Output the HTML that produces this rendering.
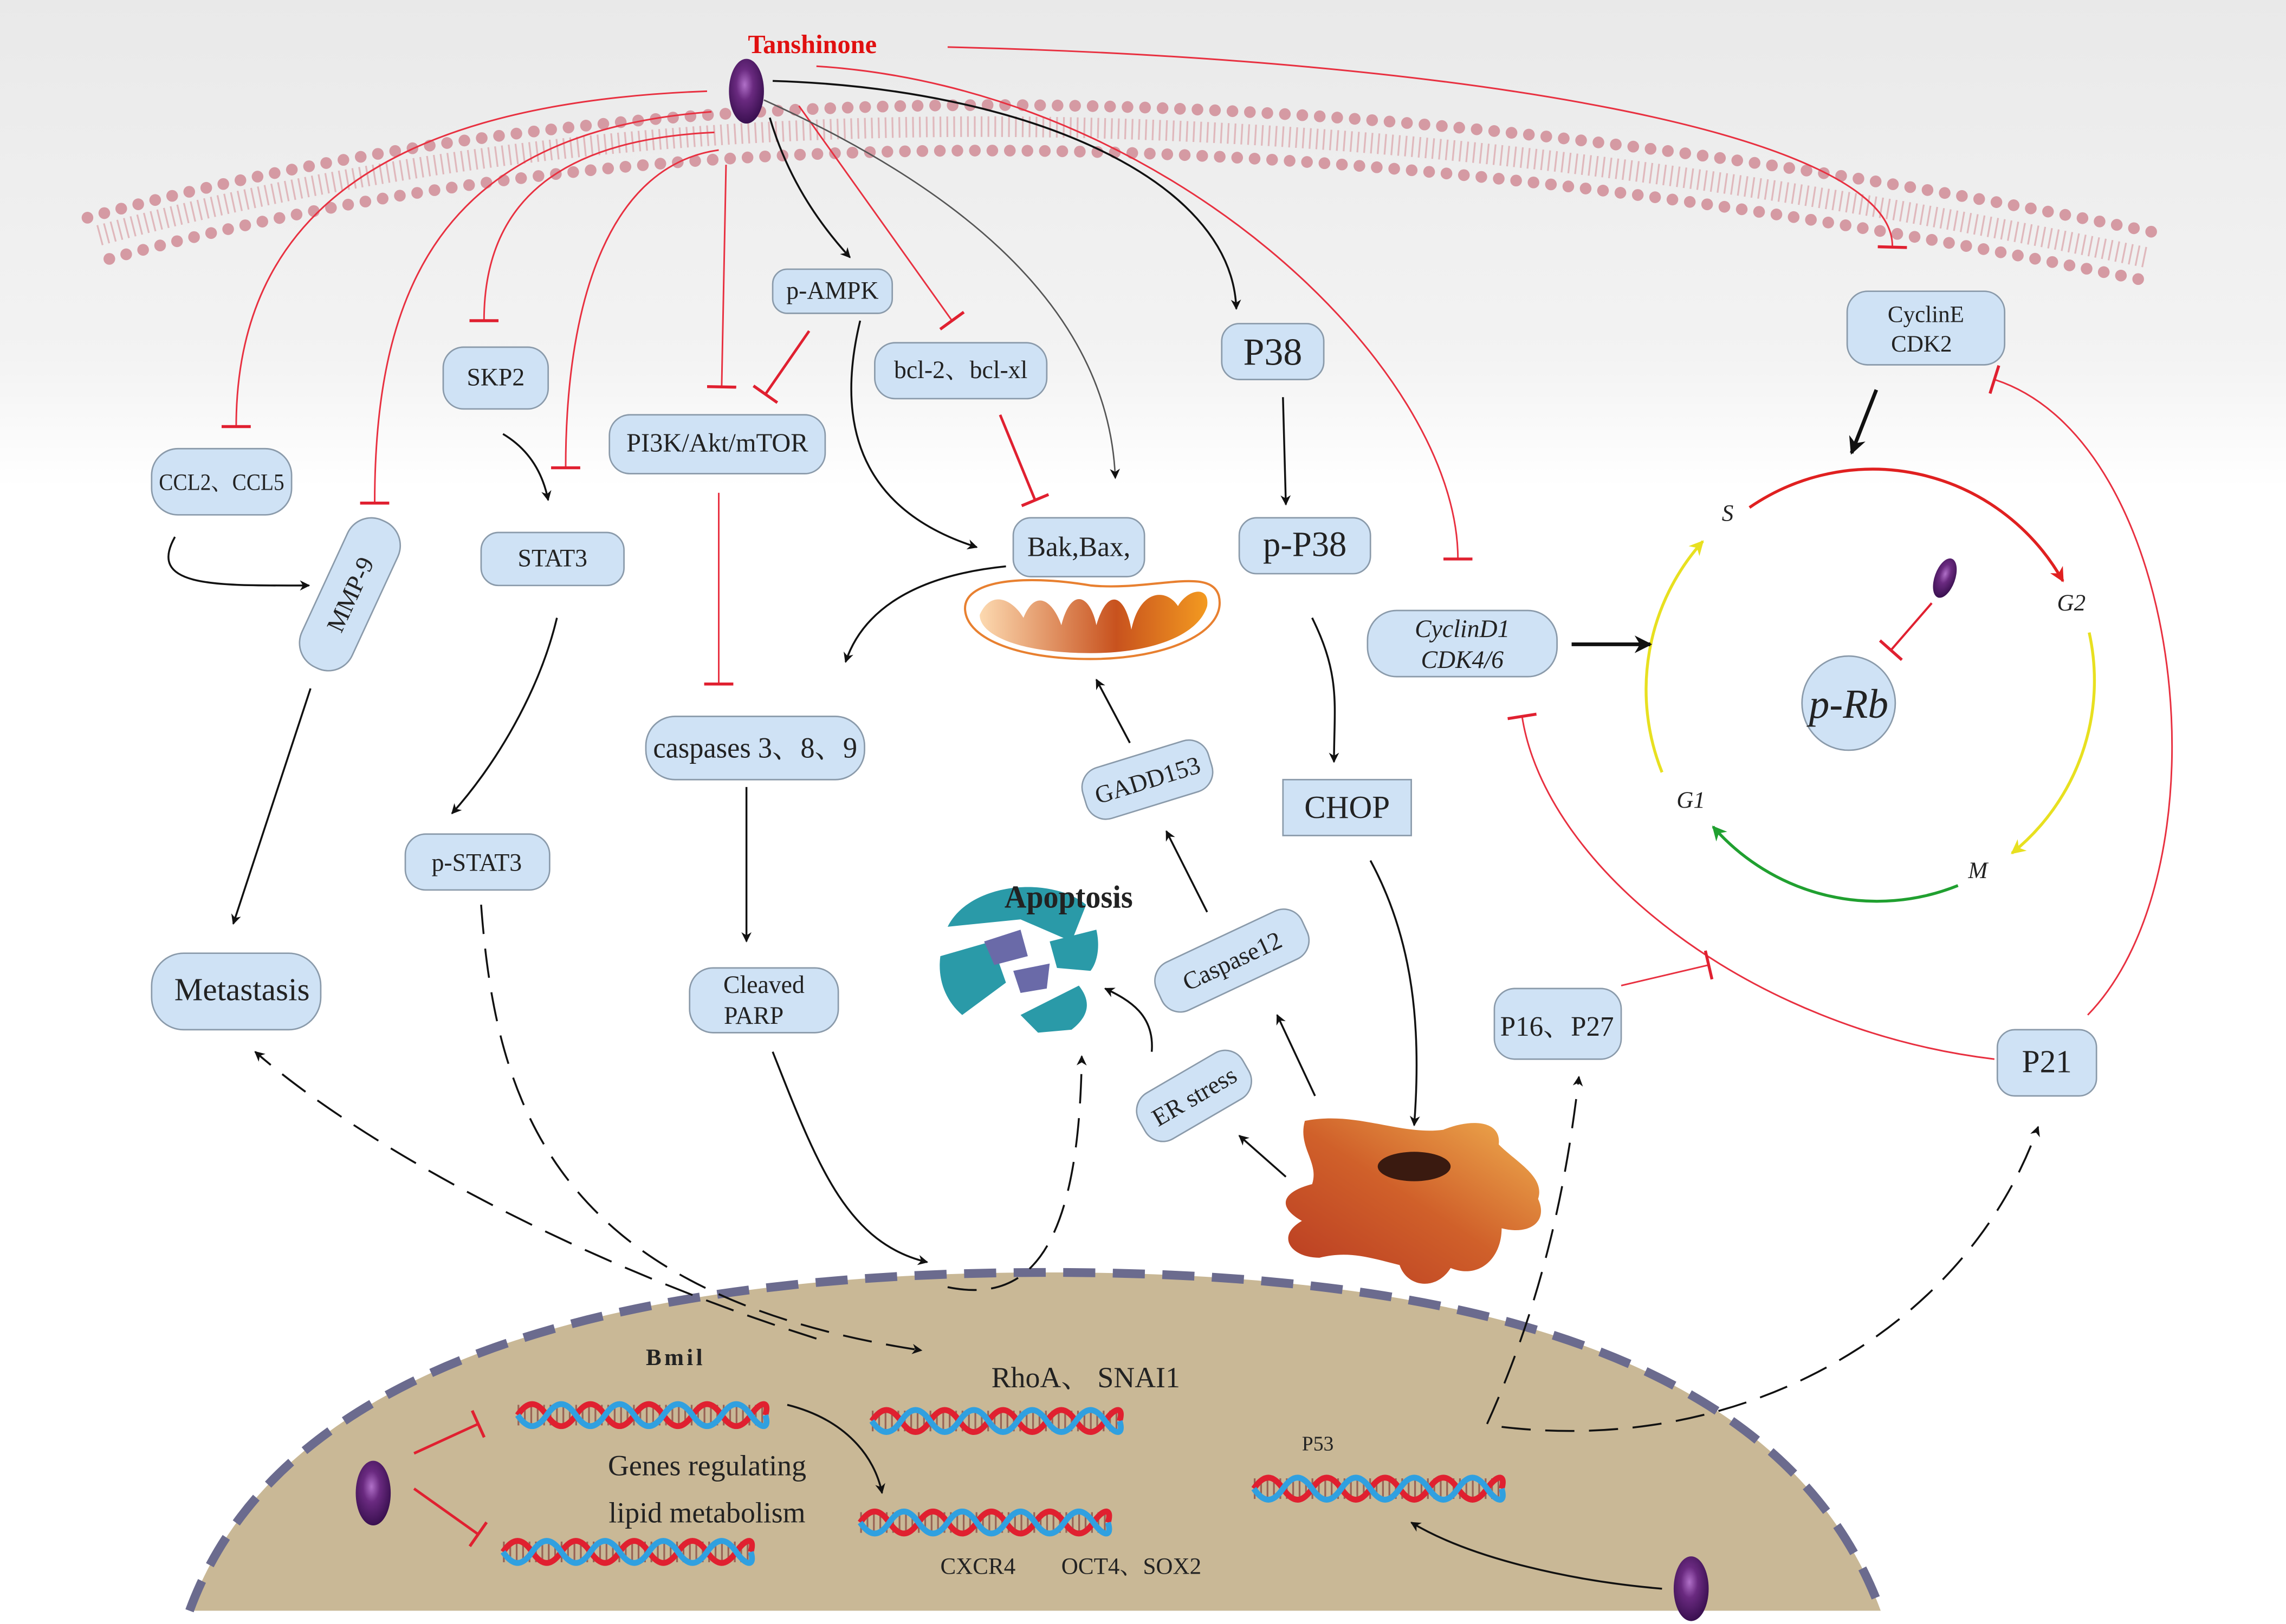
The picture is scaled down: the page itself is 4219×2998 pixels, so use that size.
<!DOCTYPE html>
<html><head><meta charset="utf-8"><style>
html,body{margin:0;padding:0;background:#fff}
svg{display:block}
text{font-family:"Liberation Serif","Noto Serif CJK SC",serif;fill:#222}
</style></head><body>
<svg width="4219" height="2998" viewBox="0 0 1568 1104" preserveAspectRatio="none" xmlns="http://www.w3.org/2000/svg">
<defs>
<linearGradient id="bg" x1="0" y1="0" x2="0" y2="1"><stop offset="0" stop-color="#e9e9e9"/><stop offset="0.22" stop-color="#f3f3f3"/><stop offset="0.3" stop-color="#fff"/></linearGradient>
<linearGradient id="mito" x1="0" x2="1"><stop offset="0" stop-color="#fcd9b0"/><stop offset="0.6" stop-color="#c8521e"/><stop offset="1" stop-color="#f39a20"/></linearGradient>
<linearGradient id="cellg" x1="0" x2="1" y1="1" y2="0"><stop offset="0" stop-color="#b83a22"/><stop offset="0.5" stop-color="#d0602a"/><stop offset="1" stop-color="#f0b050"/></linearGradient>
<radialGradient id="pur" cx="0.45" cy="0.4" r="0.6"><stop offset="0" stop-color="#b070c8"/><stop offset="0.4" stop-color="#6a2a80"/><stop offset="1" stop-color="#3a1050"/></radialGradient>
<marker id="ab" viewBox="0 0 10 10" refX="9" refY="5" markerWidth="7" markerHeight="7" orient="auto-start-reverse" markerUnits="userSpaceOnUse"><path d="M0,0 L10,5 L0,10 L3,5z" fill="#111"/></marker>
<marker id="ab2" viewBox="0 0 10 10" refX="9" refY="5" markerWidth="12" markerHeight="12" orient="auto" markerUnits="userSpaceOnUse"><path d="M0,0 L10,5 L0,10 L3,5z" fill="#111"/></marker>
<marker id="ar" viewBox="0 0 10 10" refX="9" refY="5" markerWidth="10" markerHeight="10" orient="auto" markerUnits="userSpaceOnUse"><path d="M0,0 L10,5 L0,10 L3,5z" fill="#e02020"/></marker>
<marker id="ay" viewBox="0 0 10 10" refX="9" refY="5" markerWidth="10" markerHeight="10" orient="auto" markerUnits="userSpaceOnUse"><path d="M0,0 L10,5 L0,10 L3,5z" fill="#e8e020"/></marker>
<marker id="ag" viewBox="0 0 10 10" refX="9" refY="5" markerWidth="10" markerHeight="10" orient="auto" markerUnits="userSpaceOnUse"><path d="M0,0 L10,5 L0,10 L3,5z" fill="#20a030"/></marker>
<marker id="bar" viewBox="0 0 10 10" refX="5" refY="5" markerWidth="20" markerHeight="20" orient="auto" markerUnits="userSpaceOnUse"><path d="M5,0 L5,10" stroke="#e02030" stroke-width="1"/></marker>
<g id="dna" fill="none">
<path d="M0,0 h170" stroke="#7a2a2a" stroke-width="14" stroke-dasharray="1.2 3.2" opacity="0.6"/>
<path d="M0,0 c7,-10 13,-10 20,0 s13,10 20,0 s13,-10 20,0 s13,10 20,0 s13,-10 20,0 s13,10 20,0 s13,-10 20,0 s13,10 20,0 s13,-10 10,0" stroke="#e02030" stroke-width="4"/>
<path d="M0,0 c7,10 13,10 20,0 s13,-10 20,0 s13,10 20,0 s13,-10 20,0 s13,10 20,0 s13,-10 20,0 s13,10 20,0 s13,-10 20,0 s13,10 10,0" stroke="#30a0e0" stroke-width="4"/>
</g>
</defs>
<rect width="1568" height="1104" fill="url(#bg)"/>

<!-- membrane -->
<path d="M68,160 Q640,5 1472,175" fill="none" stroke="#e0b8bc" stroke-width="14" stroke-dasharray="1.2 3.5"/>
<path d="M60,148 Q640,-10 1478,158" fill="none" stroke="#d59aa3" stroke-width="8" stroke-linecap="round" stroke-dasharray="0 12"/>
<path d="M75,176 Q640,22 1468,190" fill="none" stroke="#d59aa3" stroke-width="8" stroke-linecap="round" stroke-dasharray="0 12"/>

<!-- nucleus -->
<path d="M130,1095 C200,905 480,865 720,865 C960,865 1220,905 1290,1095 Z" fill="#c9b896"/>
<path d="M130,1095 C200,905 480,865 720,865 C960,865 1220,905 1290,1095" fill="none" stroke="#6b6b8e" stroke-width="6" stroke-dasharray="22 12"/>

<!-- cell cycle -->
<path d="M1200,345 A150,150 0 0 1 1415,395" fill="none" stroke="#e02020" stroke-width="2" marker-end="url(#ar)"/>
<path d="M1433,430 A150,150 0 0 1 1380,580" fill="none" stroke="#e8e020" stroke-width="2" marker-end="url(#ay)"/>
<path d="M1343,602 A150,150 0 0 1 1175,562" fill="none" stroke="#20a030" stroke-width="2" marker-end="url(#ag)"/>
<path d="M1140,525 A150,150 0 0 1 1168,368" fill="none" stroke="#e8e020" stroke-width="2" marker-end="url(#ay)"/>
<g font-style="italic" font-size="16"><text x="1181" y="354">S</text><text x="1411" y="415">G2</text><text x="1350" y="597">M</text><text x="1150" y="549">G1</text></g>
<circle cx="1268" cy="478" r="32" fill="#cfe2f5" stroke="#8a9aaa"/>
<text x="1268" y="488" font-size="28" font-style="italic" text-anchor="middle">p-Rb</text>
<ellipse cx="1334" cy="393" rx="7" ry="14" fill="url(#pur)" transform="rotate(20 1334 393)"/>
<path d="M1325,410 L1297,442" stroke="#e02030" stroke-width="1.5" marker-end="url(#bar)"/>

<!-- red inhibition lines -->
<g fill="none" stroke="#e83040" stroke-width="1.1" marker-end="url(#bar)">
<path d="M485,62 C260,70 162,150 162,290"/>
<path d="M488,76 C300,90 257,200 257,342"/>
<path d="M490,90 C380,95 332,140 332,218"/>
<path d="M493,102 C420,112 388,200 388,318"/>
<path d="M498,112 L495,263"/>
<path d="M548,72 L653,218"/>
<path d="M560,45 C800,60 1000,250 1000,380"/>
<path d="M650,32 C1000,40 1300,90 1298,168"/>
<path d="M493,335 L493,465"/>
<path d="M1432,690 C1530,590 1500,300 1368,258"/>
<path d="M1368,720 C1200,700 1060,590 1044,487"/>
<path d="M1112,670 L1172,656"/>
</g>
<g fill="none" stroke="#e02030" stroke-width="1.8" marker-end="url(#bar)">
<path d="M555,225 L525,268"/>
<path d="M686,282 L710,340"/>
<path d="M284,988 L328,968"/>
<path d="M284,1012 L328,1043"/>
</g>

<!-- black arrows -->
<g fill="none" stroke="#111" stroke-width="1.3" marker-end="url(#ab)">
<path d="M528,80 C540,120 560,150 583,175"/>
<path d="M524,68 C640,120 760,200 765,325" stroke="#555" stroke-width="1"/>
<path d="M530,55 C700,60 845,120 848,210"/>
<path d="M590,218 C570,300 600,350 670,372"/>
<path d="M690,385 C620,392 590,420 580,450"/>
<path d="M345,295 C362,305 372,320 376,340"/>
<path d="M382,420 C370,470 340,520 310,553"/>
<path d="M120,365 C100,400 150,398 212,398"/>
<path d="M213,468 L160,628"/>
<path d="M880,270 L882,343"/>
<path d="M900,420 C920,460 915,480 915,518"/>
<path d="M940,585 C970,640 975,700 970,765"/>
<path d="M512,535 L512,640"/>
<path d="M530,715 C560,790 580,845 636,858"/>
<path d="M790,715 C792,690 775,680 758,672"/>
<path d="M882,800 L850,772"/>
<path d="M902,745 L876,690"/>
<path d="M828,620 L800,565"/>
<path d="M775,505 L752,462"/>
<path d="M540,955 C580,965 600,990 605,1015"/>
<path d="M1140,1080 C1080,1075 1010,1060 968,1035"/>
</g>
<g fill="none" stroke="#111" stroke-width="2.5" marker-end="url(#ab2)">
<path d="M1078,438 L1132,438"/>
<path d="M1287,265 L1270,308"/>
</g>
<g fill="none" stroke="#111" stroke-width="1.3" stroke-dasharray="20 10" marker-end="url(#ab)">
<path d="M650,875 C700,885 740,860 742,718"/>
<path d="M560,910 C400,860 250,780 175,715"/>
<path d="M330,615 C340,750 380,880 632,918"/>
<path d="M1020,968 C1060,880 1075,800 1083,732"/>
<path d="M1030,970 C1200,990 1350,900 1398,766"/>
</g>

<!-- mitochondrion -->
<path d="M662,415 C660,395 700,390 748,398 C790,402 830,385 836,405 C842,430 800,448 748,448 C700,448 664,435 662,415Z" fill="#fff" stroke="#e88030" stroke-width="1.5"/>
<path d="M672,418 C680,400 695,408 702,420 C710,400 722,408 728,425 C735,398 748,405 752,425 C760,398 772,405 776,428 C782,400 800,400 808,412 C815,400 830,398 828,412 C822,432 790,444 748,444 C700,444 672,432 672,418Z" fill="url(#mito)"/>

<!-- apoptosis -->
<g fill="#2a9aa8">
<path d="M650,630 C665,600 720,595 745,615 L735,640 L700,625 Z"/>
<path d="M645,650 L680,640 L690,668 L660,690 C648,680 643,665 645,650Z"/>
<path d="M700,690 L740,670 C748,680 748,690 735,700 L712,702Z"/>
<path d="M720,640 L752,632 C755,645 752,655 748,660 L725,658Z"/>
</g>
<g fill="#6a6aa8"><path d="M675,640 L700,632 L705,650 L682,656Z"/><path d="M695,660 L720,655 L718,672 L700,675Z"/></g>
<text x="733" y="617" font-family="Liberation Sans,sans-serif" font-weight="bold" font-size="22" text-anchor="middle" textLength="88" lengthAdjust="spacingAndGlyphs">Apoptosis</text>

<!-- cell -->
<path d="M895,762 C930,755 960,772 990,768 C1010,760 1030,762 1028,778 C1040,790 1060,800 1055,815 C1062,830 1050,840 1030,835 C1030,855 1015,870 995,862 C985,878 965,875 960,860 C940,855 925,850 905,855 C885,855 875,840 893,830 C875,820 880,810 900,805 C905,790 890,780 895,762Z" fill="url(#cellg)"/>
<ellipse cx="970" cy="793" rx="25" ry="10" fill="#3a1a10"/>

<!-- DNA helices -->
<use href="#dna" transform="translate(355,962)"/>
<use href="#dna" transform="translate(345,1055)"/>
<use href="#dna" transform="translate(598,966)"/>
<use href="#dna" transform="translate(590,1035)"/>
<use href="#dna" transform="translate(860,1012)"/>
<text x="443" y="928" font-size="16" font-weight="bold" letter-spacing="2">Bmil</text>
<text x="680" y="943" font-size="20">RhoA、 SNAI1</text>
<text x="485" y="1003" font-size="20" text-anchor="middle">Genes regulating</text>
<text x="485" y="1035" font-size="20" text-anchor="middle">lipid metabolism</text>
<text x="645" y="1070" font-size="16">CXCR4</text>
<text x="728" y="1070" font-size="16">OCT4、SOX2</text>
<text x="893" y="986" font-size="14">P53</text>

<!-- purple drugs -->
<ellipse cx="512" cy="62" rx="12" ry="22" fill="url(#pur)"/>
<ellipse cx="256" cy="1015" rx="12" ry="22" fill="url(#pur)"/>
<ellipse cx="1160" cy="1080" rx="12" ry="22" fill="url(#pur)"/>
<text x="513" y="36" font-family="Liberation Sans,sans-serif" font-weight="bold" font-size="18" style="fill:#e01010">Tanshinone</text>

<!-- nodes -->
<g fill="#cfe2f5" stroke="#8a9aaa" stroke-width="1">
<rect x="530" y="183" width="82" height="30" rx="10"/>
<rect x="600" y="233" width="118" height="38" rx="14"/>
<rect x="838" y="220" width="70" height="38" rx="12"/>
<rect x="1267" y="198" width="108" height="50" rx="14"/>
<rect x="304" y="236" width="72" height="42" rx="14"/>
<rect x="418" y="282" width="148" height="40" rx="14"/>
<rect x="104" y="305" width="96" height="45" rx="18"/>
<rect x="185" y="385" width="110" height="38" rx="18" transform="rotate(-65 240 404)"/>
<rect x="330" y="362" width="98" height="36" rx="12"/>
<rect x="695" y="352" width="90" height="40" rx="12"/>
<rect x="850" y="352" width="90" height="38" rx="12"/>
<rect x="938" y="415" width="130" height="45" rx="20"/>
<rect x="443" y="487" width="150" height="43" rx="20"/>
<rect x="742" y="512" width="90" height="36" rx="14" transform="rotate(-17 787 530)"/>
<rect x="880" y="530" width="88" height="38" rx="0"/>
<rect x="278" y="567" width="99" height="38" rx="14"/>
<rect x="473" y="658" width="102" height="44" rx="16"/>
<rect x="790" y="635" width="110" height="36" rx="14" transform="rotate(-25 845 653)"/>
<rect x="104" y="648" width="116" height="52" rx="22"/>
<rect x="1025" y="672" width="87" height="48" rx="14"/>
<rect x="1370" y="700" width="68" height="45" rx="12"/>
<rect x="778" y="727" width="82" height="36" rx="14" transform="rotate(-30 819 745)"/>
</g>
<g text-anchor="middle" font-size="17">
<text x="571" y="203">p-AMPK</text>
<text x="659" y="257" font-size="17">bcl-2、bcl-xl</text>
<text x="873" y="248" font-size="26">P38</text>
<text x="1321" y="219" font-size="16">CyclinE</text>
<text x="1318" y="239" font-size="16">CDK2</text>
<text x="340" y="262">SKP2</text>
<text x="492" y="307" font-size="18">PI3K/Akt/mTOR</text>
<text x="152" y="333" font-size="16" textLength="86" lengthAdjust="spacingAndGlyphs">CCL2、CCL5</text>
<text x="240" y="410" transform="rotate(-65 240 404)">MMP-9</text>
<text x="379" y="385">STAT3</text>
<text x="740" y="378" font-size="19">Bak,Bax,</text>
<text x="895" y="378" font-size="24">p-P38</text>
<text x="1003" y="433" font-style="italic" font-size="17">CyclinD1</text>
<text x="1003" y="454" font-style="italic" font-size="17">CDK4/6</text>
<text x="518" y="515" font-size="20" textLength="140" lengthAdjust="spacingAndGlyphs">caspases 3、8、9</text>
<text x="787" y="536" transform="rotate(-17 787 530)">GADD153</text>
<text x="924" y="556" font-size="22">CHOP</text>
<text x="327" y="592">p-STAT3</text>
<text x="524" y="675">Cleaved</text>
<text x="517" y="696">PARP</text>
<text x="845" y="659" transform="rotate(-25 845 653)">Caspase12</text>
<text x="166" y="680" font-size="22">Metastasis</text>
<text x="1068" y="704" font-size="19" textLength="78" lengthAdjust="spacingAndGlyphs">P16、P27</text>
<text x="1404" y="729" font-size="22">P21</text>
<text x="819" y="751" transform="rotate(-30 819 745)">ER stress</text>
</g>
</svg>
</body></html>
